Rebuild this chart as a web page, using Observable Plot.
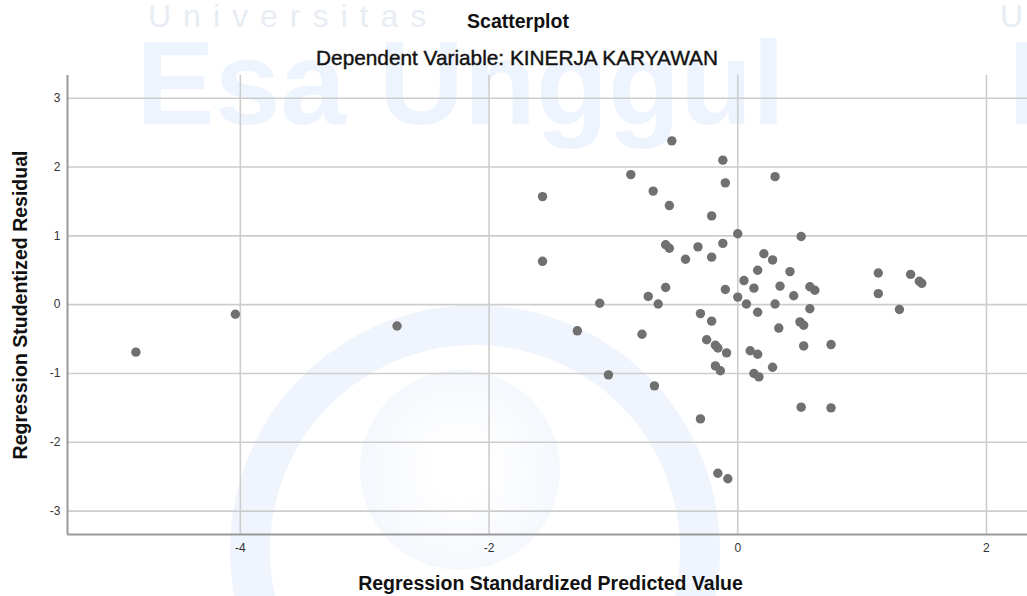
<!DOCTYPE html>
<html>
<head>
<meta charset="utf-8">
<script src="https://cdn.jsdelivr.net/npm/d3@7"></script>
<script src="https://cdn.jsdelivr.net/npm/@observablehq/plot@0.6"></script>
<style>
html, body { margin: 0; padding: 0; background: #fff; }
#wrap { position: relative; width: 1027px; height: 596px; overflow: hidden; font-family: "Liberation Sans", Arial, sans-serif; }
.wm { position: absolute; white-space: nowrap; line-height: 1; z-index: 0; }
.ring { position: absolute; border-radius: 50%; z-index: 0; }
.ttl { position: absolute; white-space: nowrap; line-height: 1; color: #111; font-weight: bold; z-index: 2; transform: translateX(-50%); }
#chart { position: absolute; left: 0; top: 70px; z-index: 1; }
</style>
</head>
<body>
<div id="wrap">
  <div class="wm" style="left:148px; top:0px; font-size:32px; letter-spacing:12px; color:#e8edf4;">Universitas</div>
  <div class="wm" style="left:1000px; top:0px; font-size:32px; letter-spacing:12px; color:#e8edf4;">Universitas</div>
  <div class="wm" style="left:136px; top:24px; font-size:118px; font-weight:bold; color:#eef4fd;">Esa Unggul</div>
  <div class="wm" style="left:1008px; top:24px; font-size:118px; font-weight:bold; color:#eef4fd;">Esa</div>
  <div class="ring" style="left:230px; top:305px; width:490px; height:490px; box-sizing:border-box; border:40px solid #f0f5fd;"></div>
  <div class="ring" style="left:360px; top:370px; width:200px; height:200px; background:radial-gradient(circle at 50% 50%, #ffffff 20%, #eef3fb 100%);"></div>
  <div class="ttl" id="title" style="left:518px; top:12px; font-size:19.5px;"></div>
  <div class="ttl" id="subtitle" style="left:517px; top:48px; font-size:20.8px; font-weight:normal; -webkit-text-stroke:0.4px #111;"></div>
  <div id="chart"></div>
</div>
<script>
// ---- data ----
const titleText = "Scatterplot";
const subtitleText = "Dependent Variable: KINERJA KARYAWAN";
const xLabel = "Regression Standardized Predicted Value";
const yLabel = "Regression Studentized Residual";

const predicted = [
  -4.84, -4.04, -2.74, -1.57, -1.57, -1.11, -1.29, -1.04,
  -0.53, -0.12, -0.86, -0.68, -0.10, -0.55, -0.21, 0.00,
  -0.58, -0.55, -0.32, -0.12, -0.42, -0.21, 0.16, 0.05,
  0.13, -0.10, -0.58, -0.72, 0.00, 0.21, 0.28, 0.30,
  0.51, 0.42, 0.34, 0.58, 0.62, 0.45, 1.13, 1.13,
  1.39, 1.46, 1.48, 1.30, 0.07, 0.16, 0.30, 0.58,
  0.33, 0.50, 0.53, 0.10, 0.16, 0.53, 0.75, 0.28,
  0.13, 0.17, 0.51, 0.75, -0.64, -0.77, -0.67, -0.30,
  -0.21, -0.25, -0.18, -0.16, -0.09, -0.18, -0.14, -0.30,
  -0.16, -0.08
];
const residual = [
  -0.69, -0.14, -0.31, 1.57, 0.63, 0.02, -0.38, -1.02,
  2.38, 2.10, 1.89, 1.65, 1.77, 1.44, 1.29, 1.03,
  0.87, 0.82, 0.84, 0.89, 0.66, 0.69, 0.50, 0.35,
  0.24, 0.22, 0.25, 0.12, 0.11, 0.74, 0.65, 1.86,
  0.99, 0.48, 0.27, 0.26, 0.21, 0.13, 0.46, 0.16,
  0.44, 0.34, 0.31, -0.07, 0.01, -0.11, 0.01, -0.06,
  -0.34, -0.25, -0.30, -0.67, -0.72, -0.60, -0.58, -0.91,
  -1.00, -1.05, -1.49, -1.50, 0.01, -0.43, -1.18, -0.13,
  -0.24, -0.51, -0.59, -0.63, -0.70, -0.89, -0.96, -1.66,
  -2.45, -2.53
];
const xTicks = [-4, -2, 0, 2];
const yTicks = [-3, -2, -1, 0, 1, 2, 3];
const xDomain = [-5.39, 2.33];
const yDomain = [-3.34, 3.33];

const points = predicted.map((x, i) => ({x, y: residual[i]}));

document.getElementById("title").textContent = titleText;
document.getElementById("subtitle").textContent = subtitleText;

const fmt = d => String(d);

const chart = Plot.plot({
  width: 1027,
  height: 526,
  marginTop: 5,
  marginBottom: 62,
  marginLeft: 67,
  marginRight: 0,
  style: {background: "transparent", fontFamily: "Liberation Sans, Arial, sans-serif", overflow: "visible"},
  x: {domain: xDomain},
  y: {domain: yDomain},
  marks: [
    Plot.gridX(xTicks, {stroke: "#cdcdcd", strokeOpacity: 1, strokeWidth: 1.6}),
    Plot.gridY(yTicks, {stroke: "#cdcdcd", strokeOpacity: 1, strokeWidth: 1.6}),
    Plot.axisX(xTicks, {tickSize: 0, tickPadding: 9, fontSize: 12, fill: "#333", label: null, tickFormat: fmt}),
    Plot.axisY(yTicks, {tickSize: 0, tickPadding: 7, fontSize: 12, fill: "#333", label: null, tickFormat: fmt}),
    Plot.ruleX([xDomain[0]], {stroke: "#999", strokeWidth: 2}),
    Plot.ruleY([yDomain[0]], {stroke: "#999", strokeWidth: 2}),
    Plot.dot(points, {x: "x", y: "y", r: 4.7, fill: "#707070", stroke: "none"}),
    Plot.text([yLabel], {text: d => d, frameAnchor: "left", dx: -47, rotate: -90, textAnchor: "middle", lineAnchor: "middle", fontSize: 19.5, fontWeight: "bold", fill: "#111"}),
    Plot.text([xLabel], {text: d => d, frameAnchor: "bottom", dy: 49, dx: 3, textAnchor: "middle", lineAnchor: "middle", fontSize: 19.5, fontWeight: "bold", fill: "#111"})
  ]
});
document.getElementById("chart").appendChild(chart);
</script>
</body>
</html>
